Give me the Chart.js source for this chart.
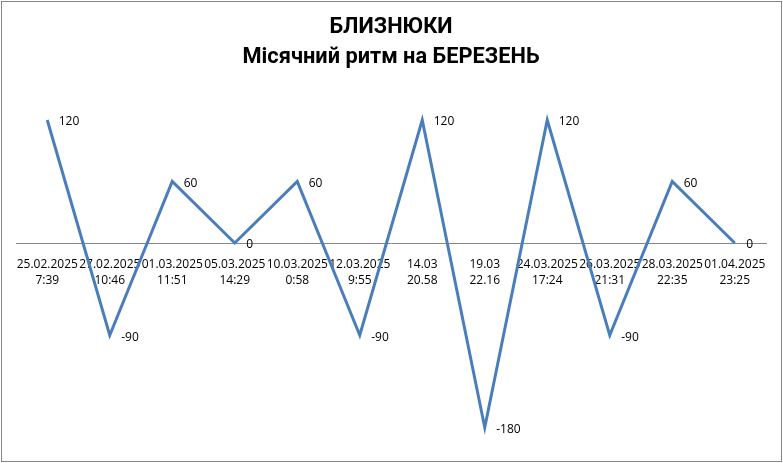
<!DOCTYPE html>
<html>
<head>
<meta charset="utf-8">
<script src="https://cdn.jsdelivr.net/npm/chart.js@4"></script>
<style>
html,body{margin:0;padding:0;background:#fff;}
#wrap{width:783px;height:463px;position:relative;}
</style>
</head>
<body>
<div id="wrap"><canvas id="c" width="783" height="463"></canvas></div>
<script>
const titleLines = ["БЛИЗНЮКИ", "Місячний ритм на БЕРЕЗЕНЬ"];
const dateLabels = ["25.02.2025","27.02.2025","01.03.2025","05.03.2025","10.03.2025","12.03.2025","14.03","19.03","24.03.2025","26.03.2025","28.03.2025","01.04.2025"];
const timeLabels = ["7:39","10:46","11:51","14:29","0:58","9:55","20.58","22.16","17:24","21:31","22:35","23:25"];
const rhythmValues = [120, -90, 60, 0, 60, -90, 120, -180, 120, -90, 60, 0];

const categories = dateLabels.map((d, i) => [d, timeLabels[i]]);

const frame = {
  id: 'frame',
  beforeDraw(chart) {
    const ctx = chart.ctx;
    ctx.save();
    ctx.fillStyle = '#fff';
    ctx.fillRect(0, 0, chart.width, chart.height);
    ctx.strokeStyle = '#868686';
    ctx.lineWidth = 1;
    ctx.strokeRect(1.5, 1.5, chart.width - 3, chart.height - 3);
    ctx.restore();
  }
};

const valueLabels = {
  id: 'valueLabels',
  afterDatasetsDraw(chart) {
    const ctx = chart.ctx;
    const meta = chart.getDatasetMeta(0);
    ctx.save();
    ctx.font = '12px "Open Sans"';
    ctx.fillStyle = '#000';
    ctx.textAlign = 'left';
    ctx.textBaseline = 'middle';
    meta.data.forEach((pt, i) => {
      ctx.fillText(String(rhythmValues[i]), pt.x + 11.5, pt.y + 2);
    });
    ctx.restore();
  }
};

new Chart(document.getElementById('c'), {
  type: 'line',
  data: {
    labels: categories,
    datasets: [{
      data: rhythmValues,
      borderColor: '#4A7EBB',
      borderWidth: 3,
      pointRadius: 0,
      tension: 0,
      fill: false
    }]
  },
  options: {
    responsive: false,
    animation: false,
    layout: { padding: { left: 16, right: 17, top: 0, bottom: 15 } },
    plugins: {
      legend: { display: false },
      tooltip: { enabled: false },
      title: {
        display: true,
        text: titleLines,
        color: '#000',
        font: { family: 'Roboto', size: 21.8, weight: 'bold', lineHeight: 30 / 21.8 },
        padding: { top: 12.5, bottom: 16.75 }
      }
    },
    scales: {
      x: {
        type: 'category',
        offset: true,
        position: { y: 0 },
        grid: { display: false, drawTicks: false },
        border: { display: true, color: '#868686', width: 1 },
        ticks: {
          autoSkip: false,
          maxRotation: 0,
          minRotation: 0,
          padding: 14,
          color: '#000',
          font: { family: 'Open Sans', size: 12, lineHeight: 16 / 12 }
        }
      },
      y: {
        display: false,
        min: -200,
        max: 150
      }
    }
  },
  plugins: [frame, valueLabels]
});
</script>
</body>
</html>
